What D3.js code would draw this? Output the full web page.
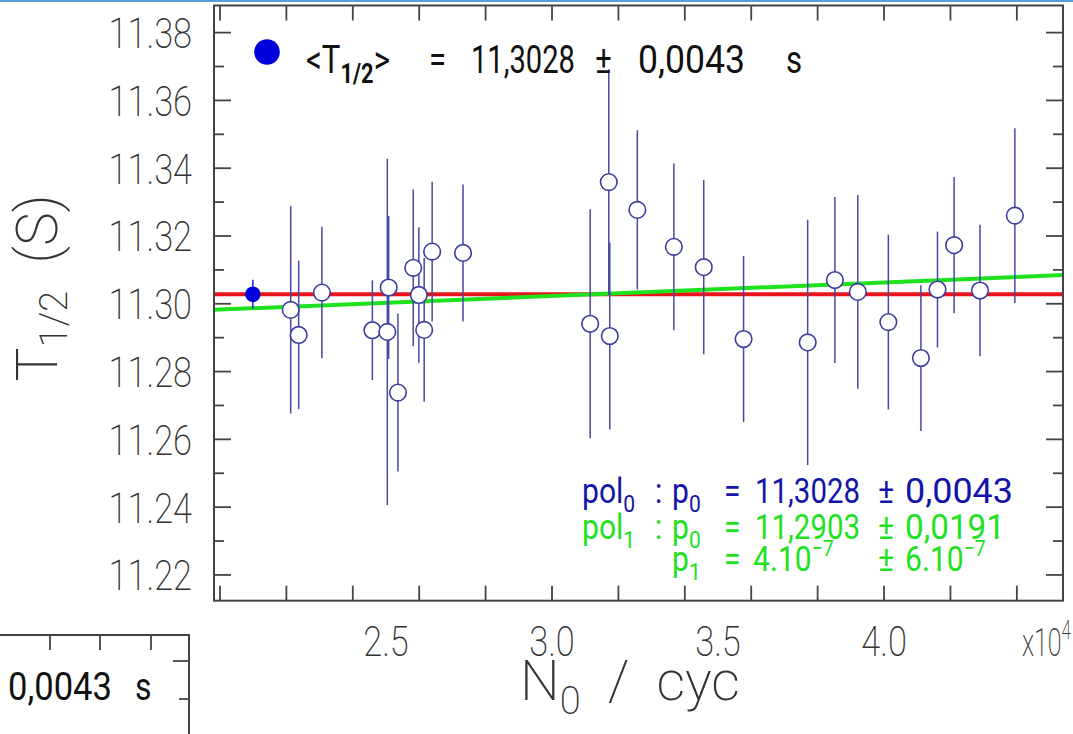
<!DOCTYPE html>
<html>
<head>
<meta charset="utf-8">
<script src="https://cdn.jsdelivr.net/npm/d3@7"></script>
<style>
  body { margin: 0; background: #fff; }
  svg text { font-family: Roboto, "DejaVu Sans", sans-serif; white-space: pre; }
</style>
</head>
<body>
<div id="vis"></div>
<script>
// N0 in units of 10^4 cycles, T1/2 in s, symmetric errors
const nValues = [2.213, 2.237, 2.307, 2.459, 2.508, 2.504, 2.536, 2.582, 2.599, 2.615, 2.639, 2.732,
                 3.115, 3.171, 3.174, 3.257, 3.367, 3.457, 3.577, 3.770, 3.852, 3.921, 4.013, 4.111,
                 4.161, 4.211, 4.289, 4.394]
const tValues = [11.2982, 11.2908, 11.3033, 11.2922, 11.3048, 11.2917, 11.2738, 11.3106, 11.3026, 11.2923, 11.3154, 11.3150,
                 11.2941, 11.3359, 11.2905, 11.3277, 11.3168, 11.3108, 11.2896, 11.2886, 11.3070, 11.3035, 11.2946, 11.2840,
                 11.3042, 11.3173, 11.3039, 11.3260]
const tErrors = [0.0306, 0.0219, 0.0194, 0.0147, 0.0211, 0.0511, 0.0233, 0.0231, 0.0200, 0.0212, 0.0206, 0.0202,
                 0.0338, 0.0333, 0.0276, 0.0235, 0.0246, 0.0257, 0.0245, 0.0362, 0.0245, 0.0286, 0.0258, 0.0215,
                 0.0171, 0.0201, 0.0194, 0.0258]

// weighted mean shown as the filled point
const meanN = 2.099
const meanT = 11.3028
const meanErr = 0.0043

// fits: pol0 and pol1 (p1 per cycle)
const pol0 = [11.3028]
const pol1 = [11.2903, 4e-7]

const yTicksMajor = [11.22, 11.24, 11.26, 11.28, 11.30, 11.32, 11.34, 11.36, 11.38]
const yTicksMinor = [11.23, 11.25, 11.27, 11.29, 11.31, 11.33, 11.35, 11.37]
const xTicks = [2.0, 2.2, 2.4, 2.6, 2.8, 3.0, 3.2, 3.4, 3.6, 3.8, 4.0, 4.2, 4.4]
const xLabels = [2.5, 3.0, 3.5, 4.0]

const width = 1073
const height = 734
const pLeft = 214, pRight = 1063, pTop = 5.5, pBottom = 600.7
const axisColor = "#444"

const svg = d3.select("#vis")
  .append("svg")
  .attr("width", width)
  .attr("height", height)

const x = d3.scaleLinear().domain([1.982, 4.539]).range([pLeft, pRight])
const y = d3.scaleLinear().domain([11.2124, 11.388]).range([pBottom, pTop])

// slide border strip
svg.append("rect")
  .attr("x", 0).attr("y", 0)
  .attr("width", width).attr("height", 2)
  .attr("fill", "#5b9bd5")

// fit lines
svg.append("line")
  .attr("x1", x(1.982)).attr("x2", x(4.539))
  .attr("y1", y(pol0[0])).attr("y2", y(pol0[0]))
  .attr("stroke", "#e8141b").attr("stroke-width", 4)

const fitLine = d3.line()
  .x(d => x(d))
  .y(d => y(pol1[0] + pol1[1] * d * 1e4))
svg.append("path")
  .attr("d", fitLine([1.982, 4.539]))
  .attr("stroke", "#1ee21e").attr("stroke-width", 4).attr("fill", "none")

// error bars
const pts = nValues.map((n, i) => ({n: n, t: tValues[i], e: tErrors[i]}))
svg.selectAll(".ebar")
  .data(pts)
  .enter()
  .append("line")
    .attr("x1", d => x(d.n)).attr("x2", d => x(d.n))
    .attr("y1", d => y(d.t - d.e)).attr("y2", d => y(d.t + d.e))
    .attr("stroke", "#4848a8").attr("stroke-width", 1.5)

svg.selectAll(".pt")
  .data(pts)
  .enter()
  .append("circle")
    .attr("cx", d => x(d.n))
    .attr("cy", d => y(d.t))
    .attr("r", 8.3)
    .attr("fill", "#fff")
    .attr("stroke", "#3b3ba0")
    .attr("stroke-width", 1.6)

// mean point
svg.append("line")
  .attr("x1", x(meanN)).attr("x2", x(meanN))
  .attr("y1", y(meanT - meanErr)).attr("y2", y(meanT + meanErr))
  .attr("stroke", "#2020c0").attr("stroke-width", 1.5)
svg.append("circle")
  .attr("cx", x(meanN)).attr("cy", y(meanT)).attr("r", 7.8)
  .attr("fill", "#0000dd")

// frame
svg.append("rect")
  .attr("x", pLeft).attr("y", pTop)
  .attr("width", pRight - pLeft).attr("height", pBottom - pTop)
  .attr("fill", "none").attr("stroke", axisColor).attr("stroke-width", 2)

// y ticks, both sides
;[[yTicksMajor, 17], [yTicksMinor, 10]].forEach(function(set) {
  set[0].forEach(function(v) {
    svg.append("line").attr("x1", pLeft).attr("x2", pLeft + set[1])
      .attr("y1", y(v)).attr("y2", y(v)).attr("stroke", axisColor).attr("stroke-width", 1.8)
    svg.append("line").attr("x1", pRight).attr("x2", pRight - set[1])
      .attr("y1", y(v)).attr("y2", y(v)).attr("stroke", axisColor).attr("stroke-width", 1.8)
  })
})

// x ticks, bottom and top
svg.selectAll(".xtb")
  .data(xTicks)
  .enter()
  .append("line")
    .attr("x1", d => x(d)).attr("x2", d => x(d))
    .attr("y1", pBottom).attr("y2", pBottom - 15)
    .attr("stroke", axisColor).attr("stroke-width", 1.8)
svg.selectAll(".xtt")
  .data(xTicks)
  .enter()
  .append("line")
    .attr("x1", d => x(d)).attr("x2", d => x(d))
    .attr("y1", pTop).attr("y2", pTop + 15)
    .attr("stroke", axisColor).attr("stroke-width", 1.8)

// tick labels (thin, narrow lettering)
svg.selectAll(".ylab")
  .data(yTicksMajor)
  .enter()
  .append("text")
    .attr("transform", d => "translate(192," + (y(d) + 15.5) + ") scale(0.8,1)")
    .attr("text-anchor", "end")
    .attr("font-size", 43)
    .attr("font-weight", 200)
    .attr("fill", "#333")
    .text(d => d.toFixed(2))

svg.selectAll(".xlab")
  .data(xLabels)
  .enter()
  .append("text")
    .attr("transform", d => "translate(" + x(d) + ",656) scale(0.8,1)")
    .attr("text-anchor", "middle")
    .attr("font-size", 43)
    .attr("font-weight", 200)
    .attr("fill", "#333")
    .text(d => d.toFixed(1))

const mult = svg.append("text")
  .attr("transform", "translate(1071,656) scale(0.66,1)")
  .attr("text-anchor", "end")
  .attr("font-size", 38).attr("font-weight", 200).attr("fill", "#333")
mult.append("tspan").text("x10")
mult.append("tspan").attr("dy", -17).attr("font-size", 26).text("4")

// axis titles
const yt = svg.append("text")
  .attr("transform", "translate(57,288) rotate(-90)")
  .attr("text-anchor", "middle")
  .attr("font-size", 57).attr("font-weight", 200).attr("fill", "#333")
yt.append("tspan").text("T")
yt.append("tspan").attr("font-size", 38).attr("dy", 10).text("1/2")
yt.append("tspan").attr("dy", -10).text("  (S)")

const xt = svg.append("text")
  .attr("transform", "translate(630,700)")
  .attr("text-anchor", "middle")
  .attr("font-size", 56).attr("font-weight", 200).attr("fill", "#333")
xt.append("tspan").text("N")
xt.append("tspan").attr("font-size", 38).attr("dy", 14).text("0")
xt.append("tspan").attr("dy", -14).text("  /  cyc")

// text rows drawn narrowed: tokens placed at page x, glyphs squeezed by sx,
// optional w = page width the token should fill
function textRow(yPos, size, sx, color, tokens) {
  const t = svg.append("text")
    .attr("transform", "scale(" + sx + ",1)")
    .attr("font-size", size).attr("fill", color)
  tokens.forEach(function(c) {
    const s = t.append("tspan").attr("x", c.x / sx).attr("y", yPos).text(c.main)
    if (c.w) s.attr("textLength", c.w / sx).attr("lengthAdjust", "spacingAndGlyphs")
    if (c.sub) t.append("tspan").attr("font-size", size * 0.7).attr("font-weight", c.bold ? 700 : 400)
      .attr("dy", size * 0.26).text(c.sub)
    if (c.sup) t.append("tspan").attr("font-size", size * 0.65).attr("dy", -size * 0.42).text(c.sup)
    if (c.after) t.append("tspan").attr("dy", c.sub ? -size * 0.26 : size * 0.42).text(c.after)
  })
}

// legend of the mean
svg.append("circle").attr("cx", 267).attr("cy", 52).attr("r", 12.8).attr("fill", "#0000dd")
textRow(73, 39, 0.8, "#111", [
  {x: 306, main: "<T", sub: "1/2", bold: true, after: ">"},
  {x: 429, main: "="}, {x: 471, main: "11,3028", w: 104}, {x: 595, main: "±"},
  {x: 638, main: "0,0043", w: 107}, {x: 786, main: "s"}])

// fit results
textRow(503, 35, 0.86, "#1414a8", [
  {x: 582, main: "pol", sub: "0"}, {x: 655, main: ":"}, {x: 672, main: "p", sub: "0"},
  {x: 724, main: "="}, {x: 755, main: "11,3028", w: 105}, {x: 878, main: "±"}, {x: 905, main: "0,0043", w: 108}])
textRow(539, 35, 0.86, "#1ee21e", [
  {x: 582, main: "pol", sub: "1"}, {x: 655, main: ":"}, {x: 672, main: "p", sub: "0"},
  {x: 724, main: "="}, {x: 755, main: "11,2903", w: 105}, {x: 878, main: "±"}, {x: 905, main: "0,0191", w: 100}])
textRow(571, 35, 0.86, "#1ee21e", [
  {x: 672, main: "p", sub: "1"}, {x: 724, main: "="}, {x: 753, main: "4.10", sup: "−7"},
  {x: 878, main: "±"}, {x: 905, main: "6.10", sup: "−7"}])

// fragment of the neighbouring figure, lower left
svg.append("path")
  .attr("d", "M0,635 H189 V734")
  .attr("fill", "none").attr("stroke", axisColor).attr("stroke-width", 2)
;[50, 100, 151].forEach(function(v) {
  svg.append("line").attr("x1", v).attr("x2", v).attr("y1", 635).attr("y2", 650)
    .attr("stroke", axisColor).attr("stroke-width", 1.8)
})
svg.append("line").attr("x1", 189).attr("x2", 173).attr("y1", 661).attr("y2", 661)
  .attr("stroke", axisColor).attr("stroke-width", 1.8)
svg.append("line").attr("x1", 189).attr("x2", 179).attr("y1", 699).attr("y2", 699)
  .attr("stroke", axisColor).attr("stroke-width", 1.8)
textRow(700, 39, 0.82, "#111", [{x: 8, main: "0,0043", w: 104}, {x: 135, main: "s"}])
</script>
</body>
</html>
